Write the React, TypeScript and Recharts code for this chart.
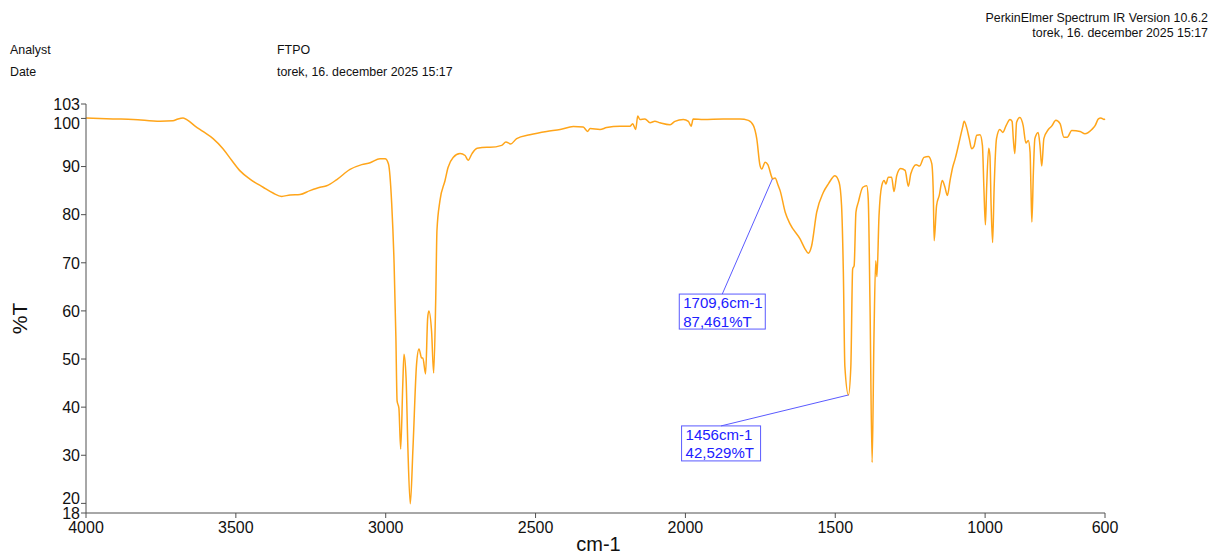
import React from "react";
import {
  LineChart,
  Line,
  XAxis,
  YAxis,
  ReferenceLine,
  ReferenceDot,
  Label,
} from "recharts";

// spectrum as [wavenumber cm-1, %T], split by region
const highRange: [number, number][] = [
  [4000, 100.1], [3910, 99.9], [3843, 99.8], [3753, 99.4], [3710, 99.5], [3693, 99.9],
  [3676, 100.1], [3660, 99.6], [3636, 98.4], [3610, 97.3], [3576, 95.8], [3543, 93.7],
  [3514, 91.3], [3486, 89.1], [3453, 87.4], [3409, 85.7], [3376, 84.5], [3347, 83.8],
  [3319, 84.1], [3286, 84.2], [3253, 85.0], [3219, 85.7], [3197, 86.0], [3163, 87.3],
  [3119, 89.4], [3080, 90.4], [3052, 90.8], [3019, 91.6], [3002, 91.6], [2991, 90.6],
  [2980, 82.3], [2972, 69.8], [2966, 54.4], [2962, 41.3], [2956, 39.8], [2950, 31.3],
  [2943, 44.8], [2939, 51.0], [2932, 46.0], [2926, 31.5], [2918, 19.9], [2909, 31.5],
  [2897, 49.0], [2889, 52.1], [2880, 50.2], [2876, 50.2], [2867, 46.9], [2860, 58.5],
  [2856, 60.0], [2847, 55.8], [2840, 47.1], [2833, 62.7], [2829, 76.7], [2819, 82.9],
  [2802, 87.1], [2792, 89.8], [2775, 91.9], [2752, 92.7], [2735, 92.3], [2725, 91.3],
  [2712, 92.7], [2695, 93.8], [2662, 94.0],
];

const midRange: [number, number][] = [
  [2652, 94.0], [2613, 94.4], [2599, 95.1], [2583, 94.7], [2563, 95.8], [2519, 96.6],
  [2463, 97.3], [2418, 97.7], [2374, 98.3], [2341, 98.2], [2326, 97.3], [2318, 97.9],
  [2285, 97.7], [2263, 98.1], [2218, 98.4], [2185, 98.4], [2176, 98.9], [2166, 97.7],
  [2159, 100.5], [2152, 99.8], [2135, 99.9], [2118, 99.1], [2102, 99.4], [2085, 99.1],
  [2051, 98.7], [2035, 99.4], [2007, 99.8], [1990, 99.4], [1981, 98.4], [1974, 99.9],
  [1940, 99.8], [1874, 99.9], [1818, 99.9], [1790, 99.6], [1773, 98.5], [1762, 95.8],
  [1751, 90.2], [1745, 89.5], [1734, 90.9], [1725, 90.4], [1712, 87.8], [1709.6, 87.461],
  [1701, 87.6], [1690, 86.0], [1684, 85.0], [1667, 80.5], [1651, 78.1], [1617, 74.9],
  [1601, 72.9], [1590, 72.0], [1579, 73.5], [1562, 80.5], [1540, 84.6], [1523, 86.4],
];

const fingerprint: [number, number][] = [
  [1501, 88.1], [1487, 86.7], [1479, 81.9], [1473, 68.0], [1468, 48.5], [1456, 42.529],
  [1448, 48.5], [1442, 68.7], [1437, 69.4], [1431, 80.5], [1423, 82.6], [1408, 85.7],
  [1395, 86.0], [1390, 83.3], [1384, 61.0], [1377, 28.5], [1371, 54.1], [1365, 70.4],
  [1361, 67.1], [1354, 79.8], [1345, 86.0], [1337, 87.1], [1331, 86.4], [1323, 87.8],
  [1312, 87.8], [1304, 84.8], [1295, 88.1], [1282, 89.6], [1267, 89.2], [1256, 85.9],
  [1248, 88.5], [1230, 90.4], [1219, 90.1], [1204, 91.9], [1189, 92.1], [1178, 90.6],
  [1173, 84.6], [1170, 74.6], [1162, 81.9], [1153, 84.0], [1143, 87.1], [1134, 85.7],
  [1126, 84.0], [1117, 87.1], [1108, 89.9], [1100, 91.6], [1084, 95.8], [1075, 98.2],
  [1070, 99.4], [1062, 98.2], [1053, 95.8], [1045, 93.7], [1037, 94.2], [1028, 96.5],
  [1017, 96.6], [1009, 94.4], [1004, 85.4], [999, 77.9], [995, 85.4], [988, 93.8],
  [984, 92.3], [980, 81.9], [975, 74.2], [970, 85.4], [962, 95.8], [951, 97.7],
  [941, 97.1], [930, 98.5], [917, 99.8], [910, 99.4], [906, 95.8], [901, 92.7],
  [895, 99.2], [884, 100.2], [873, 98.5], [864, 94.9], [856, 95.4], [850, 93.0],
  [847, 85.4], [844, 78.5], [839, 88.8], [834, 95.8], [823, 97.1], [817, 94.4],
  [811, 90.1], [804, 95.8], [789, 97.7], [778, 98.4], [764, 99.6], [750, 98.9],
  [737, 96.1], [726, 96.1], [711, 97.5], [683, 97.3], [667, 96.8], [644, 97.7],
  [633, 98.5], [622, 99.9], [614, 100.1], [603, 99.8], [600, 99.9],
];

const xTicks = [4000, 3500, 3000, 2500, 2000, 1500, 1000, 600];
const yTicks = [18, 20, 30, 40, 50, 60, 70, 80, 90, 100, 103];

// peak labels: marked point, where the label box hangs, and its two lines
const peakMarks = [
  { wn: 1709.6, t: 87.461, boxWn: 1877, boxT: 63.5, boxW: 86, lines: ["1709,6cm-1", "87,461%T"] },
  { wn: 1456, t: 42.529, boxWn: 1881, boxT: 36.1, boxW: 79, lines: ["1456cm-1", "42,529%T"] },
];

const data = [...highRange, ...midRange, ...fingerprint].map(([wn, t]) => ({ wn, t }));

const FONT = '"Liberation Sans", Arial, sans-serif';
const AXIS = "#505050";
const BLUE = "#2020ff";

const YTick = ({ x, y, payload }: any) => {
  // 100 and 20 are nudged apart from their neighbours 103 and 18
  const shift = payload.value === 100 ? 5 : payload.value === 20 ? -5 : 0;
  return (
    <text x={x} y={y + shift} dy="0.36em" textAnchor="end" fontSize={16} fill="#111" fontFamily={FONT}>
      {payload.value}
    </text>
  );
};

const PeakBox = ({ cx, cy, boxW, lines }: any) => (
  <g>
    <rect x={cx - boxW / 2} y={cy} width={boxW} height={35} fill="none" stroke="#5a5aff" strokeWidth={1} />
    {lines.map((s: string, i: number) => (
      <text key={s} x={cx - boxW / 2 + 4} y={cy + 14 + i * 18.5} fontSize={15} fill={BLUE} fontFamily={FONT}>
        {s}
      </text>
    ))}
  </g>
);

export default function App() {
  return (
    <div style={{ position: "absolute", left: 0, top: 0, width: 1211, height: 556, background: "#fff" }}>
      <svg width={1211} height={100} style={{ position: "absolute", left: 0, top: 0 }} fontFamily={FONT} fontSize={12.4} fill="#111">
        <text x={1208} y={22} textAnchor="end">PerkinElmer Spectrum IR Version 10.6.2</text>
        <text x={1208} y={36.5} textAnchor="end">torek, 16. december 2025 15:17</text>
        <text x={10} y={53.5}>Analyst</text>
        <text x={10} y={75.5}>Date</text>
        <text x={277} y={53.5}>FTPO</text>
        <text x={277} y={75.5}>torek, 16. december 2025 15:17</text>
      </svg>
      <div style={{ position: "absolute", left: 0, top: 0 }}>
        <LineChart width={1211} height={556} data={data} margin={{ top: 104, right: 106, bottom: 13, left: 26 }}>
          <XAxis
            dataKey="wn"
            type="number"
            domain={[600, 4000]}
            reversed
            ticks={xTicks}
            interval={0}
            height={30}
            tickSize={5}
            tickMargin={4}
            stroke={AXIS}
            tick={{ fill: "#111", fontSize: 16, fontFamily: FONT }}
          >
            <Label
              content={({ viewBox }: any) => (
                <text x={viewBox.x + viewBox.width / 2 + 3} y={viewBox.y + 38} textAnchor="middle" fontSize={20} fill="#111" fontFamily={FONT}>
                  cm-1
                </text>
              )}
            />
          </XAxis>
          <YAxis
            type="number"
            domain={[18, 103]}
            ticks={yTicks}
            interval={0}
            width={60}
            tickSize={5}
            tickMargin={1}
            stroke={AXIS}
            tick={<YTick />}
          >
            <Label
              content={({ viewBox }: any) => {
                const cx = viewBox.x - 7;
                const cy = viewBox.y + viewBox.height / 2 + 10;
                return (
                  <text x={cx} y={cy} transform={`rotate(-90 ${cx} ${cy})`} textAnchor="middle" dy="0.36em" fontSize={21} fill="#111" fontFamily={FONT}>
                    %T
                  </text>
                );
              }}
            />
          </YAxis>
          <Line
            type="monotone"
            dataKey="t"
            stroke="#ffa51a"
            strokeWidth={1.5}
            dot={false}
            isAnimationActive={false}
          />
          {peakMarks.map((p) => (
            <ReferenceLine
              key={`l${p.wn}`}
              segment={[{ x: p.boxWn, y: p.boxT }, { x: p.wn, y: p.t }]}
              stroke="#5a5aff"
              strokeWidth={1}
            />
          ))}
          {peakMarks.map((p) => (
            <ReferenceDot
              key={`b${p.wn}`}
              x={p.boxWn}
              y={p.boxT}
              shape={(props: any) => <PeakBox cx={props.cx} cy={props.cy} boxW={p.boxW} lines={p.lines} />}
            />
          ))}
        </LineChart>
      </div>
    </div>
  );
}
